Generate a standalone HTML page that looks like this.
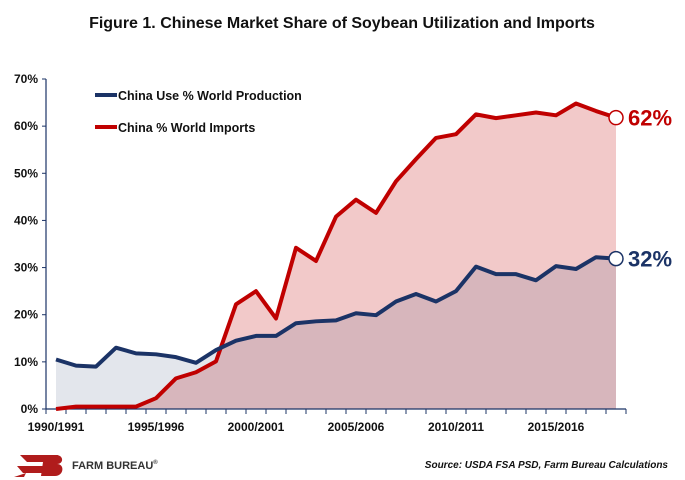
<!DOCTYPE html>
<html><head><meta charset="utf-8"><style>
body{margin:0;background:#fff;font-family:"Liberation Sans",sans-serif}
svg{display:block}
</style></head><body>
<svg id="chart" width="685" height="480" xmlns="http://www.w3.org/2000/svg">
<text x="342" y="28" text-anchor="middle" font-size="16" font-weight="bold" fill="#111">Figure 1. Chinese Market Share of Soybean Utilization and Imports</text>
<g id="areas"></g>
<g id="axes"></g>
<g id="lines"></g>
<g>
<line x1="95" y1="95" x2="117" y2="95" stroke="#1b3366" stroke-width="4"/>
<text x="118" y="100" font-size="12.5" font-weight="bold" fill="#111">China Use % World Production</text>
<line x1="95" y1="127" x2="117" y2="127" stroke="#c00000" stroke-width="4"/>
<text x="118" y="132" font-size="12.5" font-weight="bold" fill="#111">China % World Imports</text>
</g>
<g>
<path d="M20 455 h38 l-4 7 h-27 z M17 466 h34 l-4 7 h-24 z M14 477 h10 l2-4 z" fill="#b01c1c"/>
<path d="M44 455 h12 c8 0 8 9 1 9 c8 0 7 12 -2 12 h-14 z" fill="#b01c1c"/>
<text x="72" y="469" font-size="11" font-weight="bold" fill="#333">FARM BUREAU<tspan font-size="6" dy="-5">®</tspan></text>
</g>
<text x="668" y="468" text-anchor="end" font-size="10" font-weight="bold" font-style="italic" fill="#111">Source: USDA FSA PSD, Farm Bureau Calculations</text>
</svg>
<script>
const categories=["1990/1991","1991/1992","1992/1993","1993/1994","1994/1995","1995/1996","1996/1997","1997/1998","1998/1999","1999/2000","2000/2001","2001/2002","2002/2003","2003/2004","2004/2005","2005/2006","2006/2007","2007/2008","2008/2009","2009/2010","2010/2011","2011/2012","2012/2013","2013/2014","2014/2015","2015/2016","2016/2017","2017/2018","2018/2019"];
const useSeries=[10.5,9.2,9.0,13.0,11.8,11.6,11.0,9.8,12.5,14.5,15.5,15.5,18.2,18.6,18.8,20.3,19.9,22.8,24.4,22.8,25.0,30.2,28.6,28.6,27.3,30.3,29.7,32.2,31.9];
const importSeries=[0,0.5,0.5,0.5,0.5,2.3,6.5,7.8,10.1,22.2,25.0,19.2,34.2,31.4,40.8,44.4,41.6,48.3,53.0,57.5,58.3,62.5,61.7,62.3,62.9,62.3,64.8,63.2,61.8];
const yTicks=[0,10,20,30,40,50,60,70];
const xLabelEvery=5;
const NS="http://www.w3.org/2000/svg";
const X0=46,X1=626,Y0=409,Y1=79,YMAX=70;
const band=(X1-X0)/categories.length;
const x=i=>X0+band*(i+0.5);
const y=v=>Y0-(v/YMAX)*(Y0-Y1);
function mk(tag,attrs,parent){const e=document.createElementNS(NS,tag);for(const k in attrs)e.setAttribute(k,attrs[k]);parent.appendChild(e);return e;}
const areas=document.getElementById('areas'),axes=document.getElementById('axes'),lines=document.getElementById('lines');
function areaPath(s){let d=`M${x(0)},${Y0}`;s.forEach((v,i)=>d+=` L${x(i)},${y(v)}`);return d+` L${x(s.length-1)},${Y0} Z`;}
function linePath(s){return s.map((v,i)=>(i?'L':'M')+x(i)+','+y(v)).join(' ');}
let a=mk('path',{d:areaPath(importSeries),fill:'#f2c9c9'},areas);


a=mk('path',{d:areaPath(useSeries),fill:'#1b3366','fill-opacity':'0.12'},areas);


let ax=mk('line',{x1:X0,y1:Y1,x2:X0,y2:Y0,stroke:'#1b3366','stroke-width':1.2},axes);


ax=mk('line',{x1:X0,y1:Y0,x2:X1,y2:Y0,stroke:'#1b3366','stroke-width':1.2},axes);


yTicks.forEach(t=>{
 mk('line',{x1:X0-4,y1:y(t),x2:X0,y2:y(t),stroke:'#1b3366'},axes);
 const tx=mk('text',{x:X0-8,y:y(t)+4,'text-anchor':'end','font-size':12,'font-weight':'bold',fill:'#111'},axes);
 tx.textContent=t+'%';
 
 
});
for(let i=0;i<=categories.length;i++)mk('line',{x1:X0+band*i,y1:Y0,x2:X0+band*i,y2:Y0+5,stroke:'#1b3366'},axes);
categories.forEach((c,i)=>{if(i%xLabelEvery)return;
 const tx=mk('text',{x:x(i),y:Y0+22,'text-anchor':'middle','font-size':12,'font-weight':'bold',fill:'#111'},axes);
 tx.textContent=c;
 
 
});
let l=mk('path',{d:linePath(importSeries),fill:'none',stroke:'#c00000','stroke-width':4,'stroke-linejoin':'round'},lines);


l=mk('path',{d:linePath(useSeries),fill:'none',stroke:'#1b3366','stroke-width':4,'stroke-linejoin':'round'},lines);


[[importSeries,'#c00000','imports'],[useSeries,'#1b3366','use']].forEach(([s,col,n])=>{
 const i=s.length-1;
 const c=mk('circle',{cx:x(i),cy:y(s[i]),r:7,fill:'#fff',stroke:col,'stroke-width':1.5},lines);
 
 
 const t=mk('text',{x:x(i)+12,y:y(s[i])+8,'font-size':22,'font-weight':'bold',fill:col},lines);
 t.textContent=Math.round(s[i])+'%';
 
 
});
</script>
</body></html>
